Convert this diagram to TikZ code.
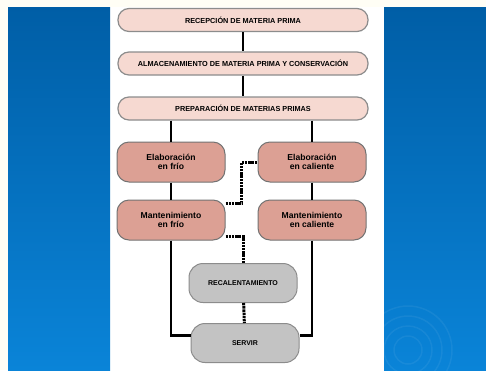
\documentclass[tikz,border=0pt]{standalone}
\usepackage{fontspec}
\setmainfont{Liberation Sans}
\usetikzlibrary{arrows}
\definecolor{azulA}{HTML}{005EA6}
\definecolor{azulB}{HTML}{0A84D8}
\definecolor{rosa}{HTML}{F6D9D1}
\definecolor{salmon}{HTML}{DCA094}
\definecolor{gris}{HTML}{C3C3C3}
\tikzset{
    etapa/.style =  {rectangle,
                    rounded corners=11pt,
                    fill=rosa,
                    draw=black!45,
                    text=black,
                    line width=1.2pt,
                    minimum width=250pt,
                    minimum height=23pt,
                    font=\bfseries\fontsize{7.3}{8}\selectfont},
    proceso/.style ={rectangle,
                    rounded corners=12pt,
                    fill=salmon,
                    draw=black!55,
                    text=black,
                    line width=1pt,
                    align=center,
                    minimum width=108pt,
                    minimum height=40pt,
                    font=\bfseries\fontsize{8.6}{9.5}\selectfont},
    final/.style =  {rectangle,
                    rounded corners=14pt,
                    fill=gris,
                    draw=black!45,
                    text=black,
                    line width=1pt,
                    minimum width=108pt,
                    minimum height=39pt,
                    font=\bfseries\fontsize{7}{8}\selectfont},
    -,
    linea/.style =  {draw=black,line width=2.6pt},
    enlace/.style = {draw=black,line width=3pt,dash pattern=on 2.4pt off 0.8pt},
    panel/.style =  {top color=azulA,bottom color=azulB,draw=none}}

\begin{document}
\begin{tikzpicture}[x=1pt,y=-1pt]
                \useasboundingbox (0,0) rectangle (486,370);
                \fill[white!96!yellow] (0,0) rectangle (486,370);
                \fill[white] (110,7) rectangle (384,370);
                \path[panel] (8,7) rectangle (110,370);
                \path[panel] (384,7) rectangle (486,370);
                \begin{scope}
                    \clip (384,7) rectangle (486,370);
                    \foreach \r in {14,24,34,44}
                        \draw[white,opacity=0.06,line width=1.5pt] (408,350) circle (\r);
                \end{scope}

                \node[etapa]        (rec)   at (243,20)             {RECEPCIÓN DE MATERIA PRIMA};
                \node[etapa]        (alm)   [below of=rec,node distance=43.5pt]     {ALMACENAMIENTO DE MATERIA PRIMA Y CONSERVACIÓN};
                \node[etapa]        (prep)  [below of=alm,node distance=45pt]       {PREPARACIÓN DE MATERIAS PRIMAS};
                \node[proceso]      (elabF) [below of=prep,node distance=53.5pt,xshift=-72pt]  {Elaboración\\en frío};
                \node[proceso]      (elabC) [right of=elabF,node distance=141pt]   {Elaboración\\en caliente};
                \node[proceso]      (mantF) [below of=elabF,node distance=58pt]    {Mantenimiento\\en frío};
                \node[proceso]      (mantC) [right of=mantF,node distance=141pt]   {Mantenimiento\\en caliente};
                \node[final]        (recal) [below of=mantF,node distance=63pt,xshift=72pt]  {RECALENTAMIENTO};
                \node[final]        (serv)  [below of=recal,node distance=60pt,xshift=2pt]   {SERVIR};

                \path [linea]   (rec) edge []   (alm)
                                (alm) edge []   (prep)
                                (prep.south -| elabF) edge [] (elabF)
                                (prep.south -| elabC) edge [] (elabC)
                                (elabF) edge [] (mantF)
                                (elabC) edge [] (mantC);
                \draw[linea]    (mantF) |- (serv.172);
                \draw[linea]    (mantC) |- (serv.8);
                \draw[enlace]   (mantF.17) -- ++(16,0) |- (elabC.west);
                \draw[enlace]   (mantF.-17) -| (recal.north);
                \draw[enlace]   (recal) -- (serv);
        \end{tikzpicture}
\end{document}
